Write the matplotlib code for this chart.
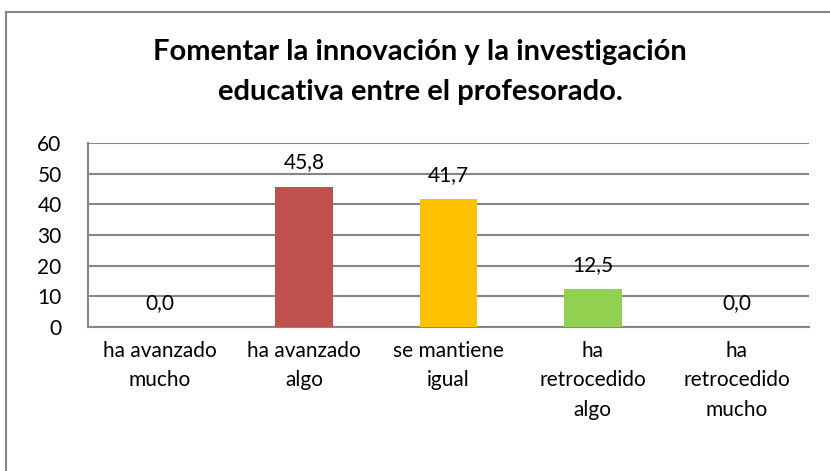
import matplotlib.pyplot as plt
from matplotlib.lines import Line2D

categories = ["ha avanzado\nmucho", "ha avanzado\nalgo", "se mantiene\nigual",
              "ha\nretrocedido\nalgo", "ha\nretrocedido\nmucho"]
values = [0.0, 45.8, 41.7, 12.5, 0.0]
colors = ["#4F81BD", "#C0504D", "#FFC000", "#92D050", "#8064A2"]
yticks = [0, 10, 20, 30, 40, 50, 60]

plt.rcParams['font.family'] = ['Lato', 'DejaVu Sans']

fig = plt.figure(figsize=(8.3, 4.71), dpi=100)
ax = fig.add_axes([88 / 830, 1 - 327 / 471, (809 - 88) / 830, (327 - 143) / 471])

x = range(len(values))
bars = ax.bar(x, values, width=0.4, color=colors, zorder=3)

for b, v in zip(bars, values):
    ax.annotate(f"{v:.1f}".replace(".", ","), (b.get_x() + b.get_width() / 2, v),
                xytext=(0, 13), textcoords="offset points", ha="center", va="baseline",
                fontsize=15, color="black")

ax.set_xlim(-0.5, len(values) - 0.5)
ax.set_ylim(0, 60)
ax.set_yticks(yticks)
ax.set_yticklabels([str(t) for t in yticks], fontsize=15)
ax.set_xticks(list(x))
ax.set_xticklabels(categories, fontsize=15, linespacing=1.6, va="top")
ax.tick_params(axis="both", length=0)
ax.tick_params(axis="y", pad=19)
ax.tick_params(axis="x", pad=10)
ax.grid(axis="y", color="#868686", linewidth=1.5, zorder=0)
for s in ["top", "right"]:
    ax.spines[s].set_visible(False)
for s in ["left", "bottom"]:
    ax.spines[s].set_color("#868686")
    ax.spines[s].set_linewidth(1.5)

fig.text(0.506, 1 - 72 / 471, "Fomentar la innovación y la investigación\neducativa entre el profesorado.",
         ha="center", va="center", fontsize=21, fontweight="bold", linespacing=1.65)

# outer chart border (cropped at right and bottom)
fig.add_artist(Line2D([6 / 830, 6 / 830], [0, 1 - 12 / 471], color="#868686", linewidth=1.5))
fig.add_artist(Line2D([6 / 830, 1], [1 - 12 / 471, 1 - 12 / 471], color="#868686", linewidth=1.5))

fig.savefig("out.png", dpi=100)
